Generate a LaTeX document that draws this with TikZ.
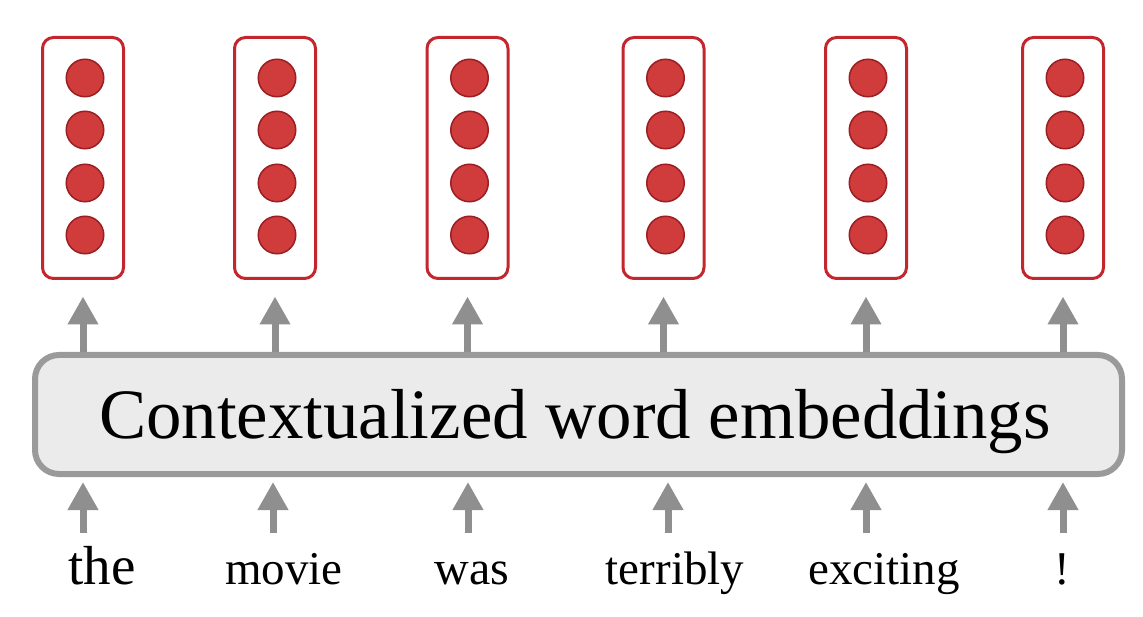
\documentclass[tikz,border=0pt]{standalone}
\usepackage{fontspec}
\setmainfont{Liberation Serif}
\usetikzlibrary{arrows.meta}
\definecolor{vecred}{HTML}{C4262E}
\definecolor{dotfill}{HTML}{D03C3C}
\definecolor{dotedge}{HTML}{9A1E22}
\definecolor{arrgray}{HTML}{8F8F8F}
\definecolor{boxgray}{HTML}{9A9A9A}
\definecolor{boxfill}{HTML}{EBEBEB}
\tikzset{
  vecbox/.style={draw=vecred, line width=3pt, rounded corners=11pt, fill=white,
    minimum width=81pt, minimum height=241pt, inner sep=0pt},
  unit/.style={circle, fill=dotfill, draw=dotedge, line width=1.5pt,
    minimum size=37.5pt, inner sep=0pt},
  ctxbox/.style={draw=boxgray, line width=6pt, rounded corners=24pt, fill=boxfill,
    minimum width=1087pt, minimum height=119pt, inner sep=0pt},
  arr/.style={draw=arrgray, line width=7pt,
    -{Triangle[width=29pt,length=28pt]}, arrgray},
  word/.style={anchor=base, inner sep=0pt, font=\fontsize{47}{56}\selectfont},
}
\begin{document}
\begin{tikzpicture}[x=1pt,y=-1pt]
\useasboundingbox (0,0) rectangle (1143,617);
\node[ctxbox] (ctx) at (578.5,414.5) {};
\node[anchor=base, inner sep=0pt, font=\fontsize{70.8}{80}\selectfont] (ctxlabel) at (575,438) {Contextualized word embeddings};
\foreach \i/\x in {1/83, 2/275, 3/467.5, 4/663.5, 5/866, 6/1063} {
  \node[vecbox] (v\i) at (\x,158) {};
  \foreach \j/\y in {1/78, 2/130, 3/183, 4/235} {
    \node[unit] (u\i\j) at (\x+2,\y) {};
  }
  \draw[arr, shorten >=16.5pt] (ctx.north -| v\i.south) -- (v\i.south);
}
\foreach \i/\ax/\wx/\w/\sz in {1/83/102/the/55, 2/273/284/movie/47, 3/468/472/was/48, 4/668/675/terribly/47, 5/866/884/exciting/47, 6/1063/1062/!/47} {
  \node[word, font=\fontsize{\sz}{\sz}\selectfont] (w\i) at (\wx,584) {\w};
  \coordinate (s\i) at (\ax,533);
  \draw[arr, shorten >=5pt] (s\i) -- (s\i |- ctx.south);
}
\end{tikzpicture}
\end{document}
